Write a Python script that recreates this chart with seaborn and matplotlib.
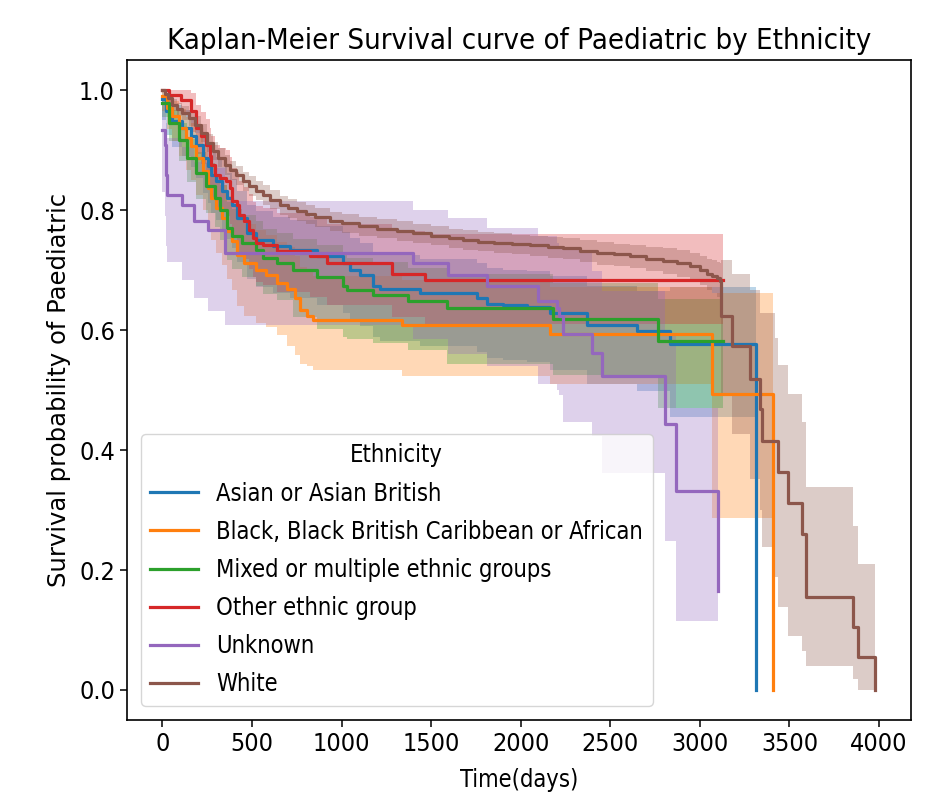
import numpy as np
import pandas as pd
import matplotlib
matplotlib.use("Agg")
import matplotlib.pyplot as plt
import seaborn as sns

# ---------------- data ----------------
groups = ["Asian or Asian British",
          "Black, Black British Caribbean or African",
          "Mixed or multiple ethnic groups",
          "Other ethnic group",
          "Unknown",
          "White"]

asian_t = [0, 20, 56, 112, 162, 190, 224, 252, 274, 302, 330, 358, 386, 419, 470, 525, 615, 710, 861, 1006,
           1045, 1101, 1174, 1213, 1437, 1755, 1811, 1900, 2035, 2163, 2370, 2650, 2834, 3313]
asian_s = [0.985, 0.965, 0.948, 0.937, 0.923, 0.908, 0.886, 0.873, 0.858, 0.848, 0.831, 0.820, 0.808, 0.786,
           0.761, 0.750, 0.740, 0.733, 0.723, 0.711, 0.700, 0.691, 0.674, 0.669, 0.661, 0.653, 0.644, 0.641,
           0.639, 0.628, 0.608, 0.598, 0.576, 0.0]
asian_lo = [0.950, 0.925, 0.905, 0.890, 0.872, 0.853, 0.828, 0.812, 0.795, 0.783, 0.764, 0.751, 0.737, 0.713,
            0.685, 0.672, 0.661, 0.653, 0.641, 0.628, 0.616, 0.606, 0.588, 0.582, 0.573, 0.564, 0.554, 0.550,
            0.547, 0.534, 0.510, 0.498, 0.455, 0.0]
asian_hi = [1.0, 0.990, 0.975, 0.967, 0.955, 0.942, 0.922, 0.910, 0.897, 0.888, 0.872, 0.862, 0.851, 0.831,
            0.808, 0.798, 0.789, 0.783, 0.774, 0.763, 0.753, 0.745, 0.729, 0.725, 0.718, 0.711, 0.703, 0.700,
            0.699, 0.690, 0.673, 0.665, 0.672, 0.0]

black_t = [0, 28, 56, 95, 134, 162, 190, 224, 252, 274, 302, 330, 363, 391, 419, 458, 525, 581, 637, 693,
           738, 766, 805, 839, 1336, 2163, 3068, 3410]
black_s = [0.990, 0.970, 0.957, 0.937, 0.920, 0.907, 0.886, 0.865, 0.836, 0.820, 0.803, 0.786, 0.765, 0.748,
           0.725, 0.711, 0.700, 0.691, 0.678, 0.669, 0.653, 0.633, 0.624, 0.616, 0.608, 0.594, 0.494, 0.0]
black_lo = [0.965, 0.935, 0.915, 0.890, 0.866, 0.850, 0.825, 0.800, 0.768, 0.750, 0.729, 0.709, 0.685, 0.666,
            0.640, 0.624, 0.612, 0.605, 0.591, 0.574, 0.558, 0.544, 0.540, 0.533, 0.523, 0.510, 0.287, 0.0]
black_hi = [1.0, 0.990, 0.982, 0.968, 0.955, 0.945, 0.928, 0.910, 0.885, 0.871, 0.857, 0.842, 0.824, 0.809,
            0.789, 0.776, 0.766, 0.758, 0.746, 0.738, 0.723, 0.705, 0.697, 0.690, 0.683, 0.672, 0.661, 0.0]

mixed_t = [0, 39, 95, 140, 190, 246, 291, 319, 358, 391, 447, 525, 559, 637, 727, 861, 1006, 1028, 1174,
           1370, 1588, 2180, 2767, 3130]
mixed_s = [0.978, 0.945, 0.917, 0.886, 0.861, 0.840, 0.820, 0.800, 0.770, 0.756, 0.745, 0.733, 0.720, 0.711,
           0.700, 0.689, 0.673, 0.666, 0.658, 0.648, 0.636, 0.619, 0.581, 0.581]
mixed_lo = [0.955, 0.915, 0.882, 0.847, 0.819, 0.795, 0.772, 0.750, 0.717, 0.701, 0.688, 0.674, 0.660, 0.650,
            0.622, 0.602, 0.589, 0.585, 0.578, 0.566, 0.544, 0.525, 0.470, 0.470]
mixed_hi = [0.990, 0.967, 0.945, 0.918, 0.896, 0.878, 0.860, 0.842, 0.814, 0.801, 0.792, 0.781, 0.769, 0.761,
            0.751, 0.741, 0.727, 0.720, 0.713, 0.704, 0.694, 0.679, 0.652, 0.652]

other_t = [0, 39, 104, 160, 188, 216, 244, 263, 272, 291, 319, 356, 375, 391, 419, 430, 458, 486, 503, 525,
           559, 637, 822, 917, 1280, 1465, 3130]
other_s = [1.0, 0.992, 0.984, 0.965, 0.937, 0.923, 0.909, 0.890, 0.875, 0.859, 0.853, 0.848, 0.836, 0.815,
           0.808, 0.791, 0.781, 0.766, 0.753, 0.745, 0.741, 0.731, 0.723, 0.711, 0.694, 0.683, 0.683]
other_lo = [1.0, 0.976, 0.960, 0.930, 0.893, 0.876, 0.860, 0.838, 0.821, 0.803, 0.796, 0.790, 0.777, 0.755,
            0.747, 0.729, 0.718, 0.702, 0.688, 0.680, 0.675, 0.664, 0.655, 0.642, 0.622, 0.610, 0.610]
other_hi = [1.0, 1.0, 1.0, 0.995, 0.975, 0.963, 0.952, 0.936, 0.923, 0.909, 0.904, 0.900, 0.889, 0.870,
            0.864, 0.848, 0.839, 0.826, 0.814, 0.807, 0.803, 0.795, 0.788, 0.777, 0.765, 0.760, 0.760]

unknown_t = [0, 12, 22, 28, 112, 179, 252, 347, 1398, 1593, 1811, 2096, 2200, 2215, 2236, 2398, 2454, 2806,
             2868, 3100]
unknown_s = [0.933, 0.908, 0.858, 0.825, 0.808, 0.781, 0.766, 0.728, 0.711, 0.691, 0.674, 0.648, 0.636,
             0.624, 0.594, 0.561, 0.524, 0.444, 0.331, 0.165]
unknown_lo = [0.830, 0.790, 0.740, 0.714, 0.683, 0.653, 0.631, 0.608, 0.585, 0.560, 0.540, 0.510, 0.500,
              0.491, 0.446, 0.424, 0.361, 0.249, 0.115, 0.010]
unknown_hi = [0.990, 0.975, 0.945, 0.920, 0.905, 0.880, 0.870, 0.815, 0.800, 0.786, 0.770, 0.756, 0.745,
              0.740, 0.733, 0.698, 0.665, 0.590, 0.470, 0.400]

white_t = [0, 15, 30, 56, 80, 110, 151, 180, 218, 250, 280, 310, 347, 380, 413, 450, 486, 520, 559, 600,
           654, 700, 749, 800, 850, 934, 1000, 1100, 1200, 1308, 1400, 1500, 1600, 1677, 1760, 1850, 1950,
           2052, 2150, 2236, 2330, 2426, 2520, 2610, 2700, 2795, 2870, 2946, 3000, 3041, 3070, 3097, 3110,
           3120, 3180, 3281, 3337, 3348, 3421, 3438, 3494, 3572, 3590, 3857, 3885, 3980]
white_s = [1.0, 0.993, 0.987, 0.975, 0.968, 0.962, 0.953, 0.942, 0.928, 0.912, 0.898, 0.887, 0.875, 0.866,
           0.858, 0.848, 0.840, 0.832, 0.825, 0.817, 0.808, 0.803, 0.798, 0.793, 0.788, 0.781, 0.778, 0.773,
           0.769, 0.765, 0.761, 0.757, 0.753, 0.750, 0.747, 0.745, 0.743, 0.741, 0.738, 0.736, 0.732, 0.728,
           0.726, 0.723, 0.719, 0.715, 0.711, 0.706, 0.700, 0.694, 0.690, 0.686, 0.681, 0.624, 0.574, 0.518,
           0.469, 0.415, 0.415, 0.364, 0.311, 0.260, 0.155, 0.105, 0.055, 0.0]
white_lo = [1.0, 0.986, 0.978, 0.965, 0.957, 0.950, 0.940, 0.928, 0.913, 0.897, 0.883, 0.871, 0.859, 0.850,
            0.842, 0.832, 0.824, 0.816, 0.809, 0.801, 0.792, 0.787, 0.782, 0.777, 0.772, 0.765, 0.762, 0.757,
            0.753, 0.749, 0.745, 0.741, 0.737, 0.734, 0.731, 0.728, 0.726, 0.724, 0.720, 0.718, 0.713, 0.709,
            0.706, 0.703, 0.698, 0.693, 0.688, 0.682, 0.675, 0.667, 0.661, 0.655, 0.645, 0.491, 0.427, 0.352,
            0.300, 0.239, 0.189, 0.139, 0.090, 0.065, 0.040, 0.018, 0.0, 0.0]
white_hi = [1.0, 0.998, 0.994, 0.985, 0.979, 0.974, 0.966, 0.956, 0.943, 0.927, 0.913, 0.903, 0.891, 0.882,
            0.874, 0.864, 0.856, 0.848, 0.841, 0.833, 0.824, 0.819, 0.814, 0.809, 0.804, 0.797, 0.794, 0.789,
            0.785, 0.781, 0.777, 0.773, 0.769, 0.766, 0.763, 0.761, 0.759, 0.757, 0.755, 0.753, 0.750, 0.746,
            0.744, 0.742, 0.739, 0.736, 0.733, 0.729, 0.724, 0.719, 0.716, 0.713, 0.712, 0.716, 0.694, 0.666,
            0.628, 0.628, 0.586, 0.541, 0.494, 0.447, 0.339, 0.274, 0.210, 0.210]

series = {
    groups[0]: (asian_t, asian_s, asian_lo, asian_hi),
    groups[1]: (black_t, black_s, black_lo, black_hi),
    groups[2]: (mixed_t, mixed_s, mixed_lo, mixed_hi),
    groups[3]: (other_t, other_s, other_lo, other_hi),
    groups[4]: (unknown_t, unknown_s, unknown_lo, unknown_hi),
    groups[5]: (white_t, white_s, white_lo, white_hi),
}

frames = []
for g, (t, s, lo, hi) in series.items():
    frames.append(pd.DataFrame({"time": t, "surv": s, "lo": lo, "hi": hi, "Ethnicity": g}))
df = pd.concat(frames, ignore_index=True)

# ---------------- plotting ----------------
plt.rcParams["font.family"] = ["DejaVu Sans"]
plt.rcParams["font.stretch"] = "condensed"

palette = dict(zip(groups, sns.color_palette("tab10", 6)))

fig = plt.figure(figsize=(9.25, 7.96), dpi=100)
ax = fig.add_axes([0.137, 0.0955, 0.848, 0.829])

for g in groups:
    d = df[df["Ethnicity"] == g]
    ax.fill_between(d["time"], d["lo"], d["hi"], step="post", alpha=0.3,
                    color=palette[g], linewidth=0)

sns.lineplot(data=df, x="time", y="surv", hue="Ethnicity", hue_order=groups,
             palette=palette, estimator=None, sort=False, drawstyle="steps-post",
             linewidth=2.3, ax=ax)

ax.set_title("Kaplan-Meier Survival curve of Paediatric by Ethnicity", fontsize=21, pad=8)
ax.set_xlabel("Time(days)", fontsize=17, labelpad=9)
ax.set_ylabel("Survival probability of Paediatric", fontsize=17.5, fontstretch="normal", labelpad=6)
ax.set_xticks([0, 500, 1000, 1500, 2000, 2500, 3000, 3500, 4000])
ax.set_yticks([0.0, 0.2, 0.4, 0.6, 0.8, 1.0])
ax.tick_params(labelsize=18, length=5, width=1.1)
for sp in ax.spines.values():
    sp.set_linewidth(1.2)

ax.legend(title="Ethnicity", loc="lower left", fontsize=17, title_fontsize=17,
          labelspacing=0.6, borderaxespad=0.6)

fig.savefig("out.png", dpi=100)
